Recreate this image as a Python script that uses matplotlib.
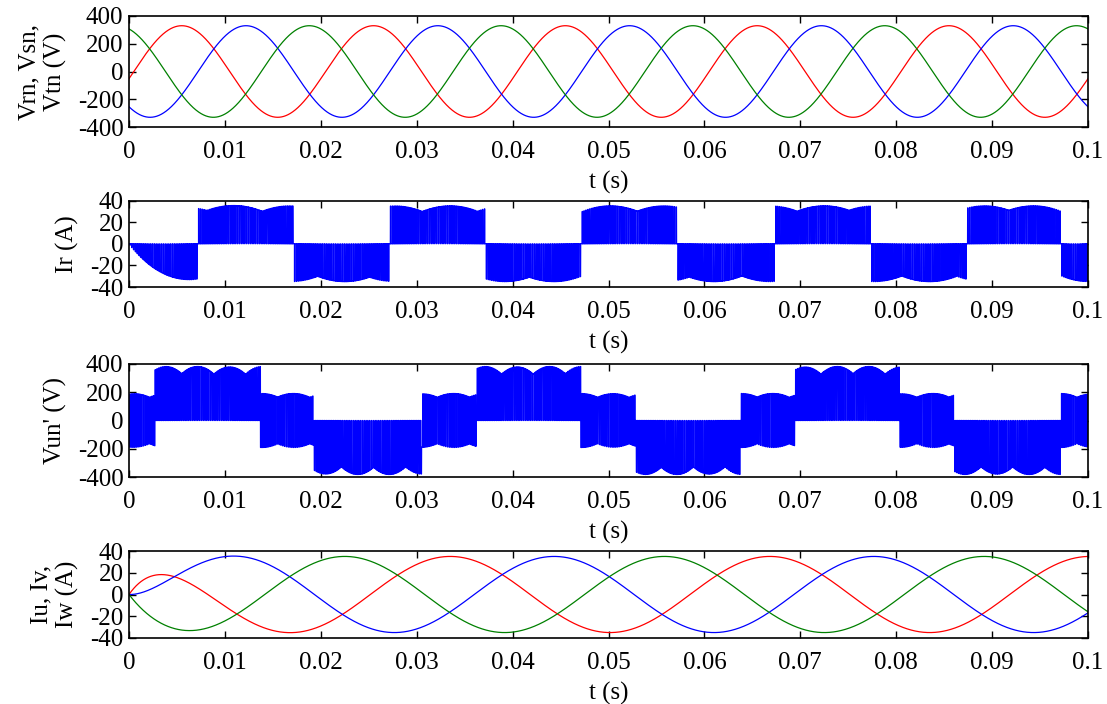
import numpy as np
import matplotlib
matplotlib.use('Agg')
import matplotlib.pyplot as plt

plt.rcParams['font.family'] = ['Liberation Serif', 'DejaVu Serif']
plt.rcParams['font.size'] = 18
plt.rcParams['axes.unicode_minus'] = False

# ---- values ----
x_ticks = [0, 0.01, 0.02, 0.03, 0.04, 0.05, 0.06, 0.07, 0.08, 0.09, 0.1]
x_tick_labels = ['0', '0.01', '0.02', '0.03', '0.04', '0.05', '0.06', '0.07', '0.08', '0.09', '0.1']
v_ticks = [-400, -200, 0, 200, 400]
i_ticks = [-40, -20, 0, 20, 40]

# input phase voltages r, s, t : 50 Hz, peak ~330 V, time of first positive peak
vin_freq = 50
vin_amp = 330
vin_peak_t = [0.0055, 0.0122, 0.0188]
vin_colors = ['red', 'blue', 'green']

# output currents u, v, w : 30 Hz, peak ~35 A, first positive peak, start-up decay
iout_freq = 30
iout_amp = 35
iout_peak_t = [0.0335, 0.011, 0.0225]
iout_tau = 0.0028
iout_colors = ['red', 'blue', 'green']

# input current Ir : blocks of sign +/-1 between these instants
ir_edges = [0, 0.0071, 0.0172, 0.0272, 0.0372, 0.0472, 0.0572, 0.0673, 0.0773, 0.0873, 0.0972, 0.1]
ir_signs = [-1, 1, -1, 1, -1, 1, -1, 1, -1, 1, -1]

# output voltage Vun' : 0 = bipolar (+/- E/3), +1 = 0..2E/3, -1 = 0..-2E/3
vun_edges = [0, 0.0027, 0.0137, 0.0193, 0.0305, 0.0362, 0.0471, 0.0528, 0.0638, 0.0694, 0.0804, 0.0861, 0.0972, 0.1]
vun_levels = [0, 1, 0, -1, 0, 1, 0, -1, 0, 1, 0, -1, 0]

carrier_freq = 5300  # switching frequency used to draw the pwm texture

t = np.linspace(0, 0.1, 200001)

# input voltages
w_in = 2 * np.pi * vin_freq
vin = [vin_amp * np.cos(w_in * (t - tp)) for tp in vin_peak_t]

# output currents with start-up offset
w_out = 2 * np.pi * iout_freq
iout = [iout_amp * (np.cos(w_out * (t - tp)) - np.cos(w_out * tp) * np.exp(-t / iout_tau))
        for tp in iout_peak_t]

carrier = np.abs(((t * carrier_freq) % 1.0) * 2 - 1)


def block_info(edges, values):
    idx = np.clip(np.searchsorted(edges, t, side='right') - 1, 0, len(values) - 1)
    start = np.array(edges)[idx]
    stop = np.array(edges)[idx + 1]
    frac = (t - start) / (stop - start)
    return np.array(values)[idx], frac


# Ir : switching between 0 and the largest output current
i_env = np.max(np.abs(np.array(iout)), axis=0)
sgn, frac = block_info(ir_edges, ir_signs)
duty = 0.1 + 0.8 * np.sin(np.pi * frac)
ir = sgn * i_env * (carrier < duty)

# Vun' : levels taken from the input line-line envelope
v_arr = np.array(vin)
e_ll = v_arr.max(axis=0) - v_arr.min(axis=0)
lvl, frac = block_info(vun_edges, vun_levels)
duty = 0.3 + 0.5 * np.sin(np.pi * frac)
on = carrier < duty
vun = np.where(lvl == 0, np.where(on, e_ll / 3, -e_ll / 3), lvl * (2 * e_ll / 3) * on)

fig = plt.figure(figsize=(11.07, 7.04), dpi=100)
left, width = 129 / 1107, 959 / 1107
rects = [(16, 127), (200.5, 287), (364, 477), (551, 638)]
axes = [fig.add_axes([left, 1 - b / 704, width, (b - a) / 704]) for a, b in rects]

ax = axes[0]
for v, c in zip(vin, vin_colors):
    ax.plot(t, v, color=c, lw=0.9)
ax.set_ylim(-400, 400)
ax.set_yticks(v_ticks)
ax.set_ylabel('Vrn, Vsn,\nVtn (V)', labelpad=8)

ax = axes[1]
ax.plot(t, ir, color='blue', lw=0.9)
ax.set_ylim(-40, 40)
ax.set_yticks(i_ticks)
ax.set_ylabel('Ir (A)', labelpad=8)

ax = axes[2]
ax.plot(t, vun, color='blue', lw=0.9)
ax.set_ylim(-400, 400)
ax.set_yticks(v_ticks)
ax.set_ylabel("Vun' (V)", labelpad=8)

ax = axes[3]
for i, c in zip(iout, iout_colors):
    ax.plot(t, i, color=c, lw=0.9)
ax.set_ylim(-40, 40)
ax.set_yticks(i_ticks)
ax.set_ylabel('Iu, Iv,\nIw (A)', labelpad=8)

for ax in axes:
    ax.set_xlim(0, 0.1)
    ax.set_xticks(x_ticks)
    ax.set_xticklabels(x_tick_labels)
    ax.set_xlabel('t (s)', labelpad=6)
    ax.tick_params(direction='in', top=True, right=True, length=5, width=1)
    ax.tick_params(axis='x', pad=10)
    ax.tick_params(axis='y', pad=4)
    for s in ax.spines.values():
        s.set_linewidth(1.2)

fig.savefig('out.png', dpi=100)
